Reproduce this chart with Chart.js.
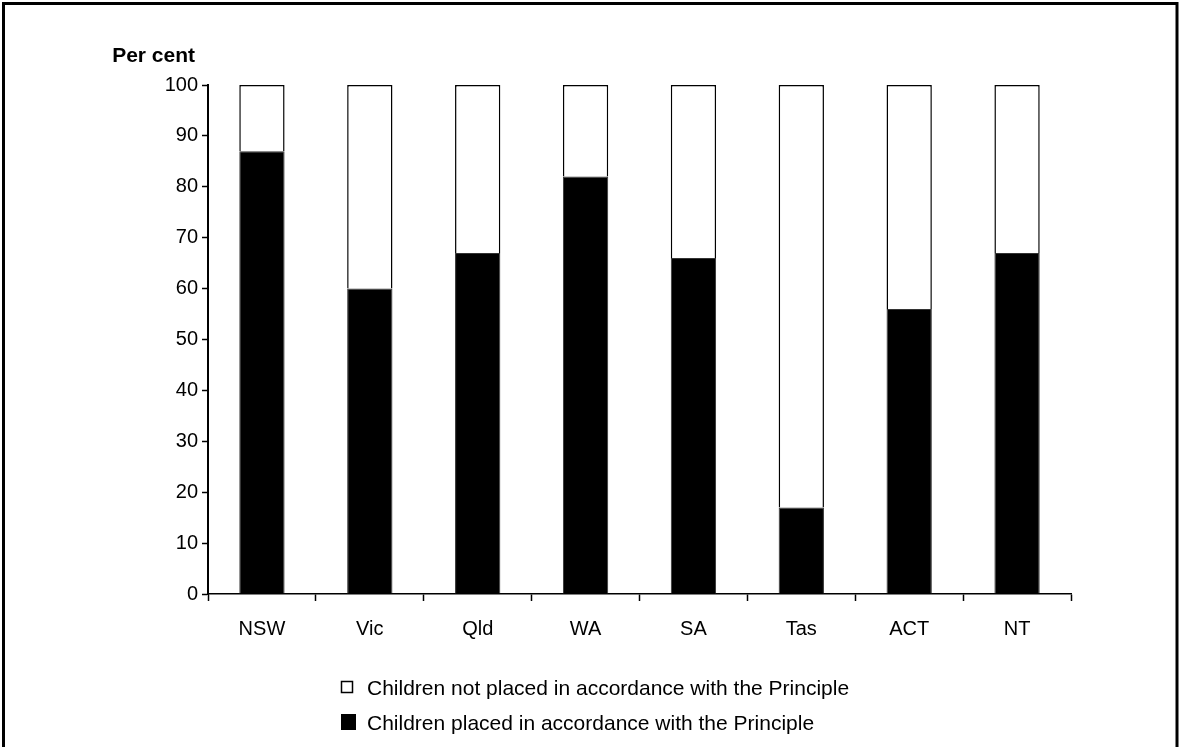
<!DOCTYPE html>
<html>
<head>
<meta charset="utf-8">
<title>Placement of Indigenous children by state</title>
<script src="https://cdn.jsdelivr.net/npm/chart.js@4.4.1/dist/chart.umd.min.js"></script>
<style>
  html, body { margin: 0; padding: 0; background: #fff; }
  #wrap { position: relative; width: 1179px; height: 747px; }
</style>
</head>
<body>
<div id="wrap"><canvas id="chart" width="1179" height="747"></canvas></div>
<script>
// States and territories
const categories = ['NSW', 'Vic', 'Qld', 'WA', 'SA', 'Tas', 'ACT', 'NT'];
// Per cent of children placed in accordance with the Principle
const placed = [87, 60, 67, 82, 66, 17, 56, 67];
// Per cent of children not placed in accordance with the Principle
const notPlaced = [13, 40, 33, 18, 34, 83, 44, 33];
// Y axis tick values
const yTicks = [0, 10, 20, 30, 40, 50, 60, 70, 80, 90, 100];

const FONT = "'Liberation Sans', Arial, Helvetica, sans-serif";

// Frame around the figure, the "Per cent" axis title and the stacked legend
const decorations = {
  id: 'decorations',
  afterDraw(chart) {
    const ctx = chart.ctx;
    ctx.save();
    ctx.strokeStyle = '#000';
    ctx.lineWidth = 3;
    ctx.strokeRect(3.5, 3.5, 1173.5, 800);

    ctx.fillStyle = '#000';
    ctx.font = 'bold 21px ' + FONT;
    ctx.textAlign = 'right';
    ctx.textBaseline = 'middle';
    ctx.fillText('Per cent', 195, 56);

    // legend, top entry is the upper stack segment
    const items = chart.data.datasets.slice().reverse();
    ctx.font = '21px ' + FONT;
    ctx.textAlign = 'left';
    items.forEach((ds, i) => {
      const cy = 688 + i * 35;
      if (ds.backgroundColor === '#000000') {
        ctx.fillStyle = '#000';
        ctx.fillRect(341, cy - 9, 15, 16);
      } else {
        ctx.fillStyle = '#fff';
        ctx.fillRect(341, cy - 7, 12, 12);
        ctx.lineWidth = 1.5;
        ctx.strokeStyle = '#000';
        ctx.strokeRect(341.5, cy - 6.5, 11, 11);
      }
      ctx.fillStyle = '#000';
      ctx.fillText(ds.label, 367, cy + 1);
    });
    ctx.restore();
  }
};

new Chart(document.getElementById('chart'), {
  type: 'bar',
  data: {
    labels: categories,
    datasets: [
      {
        label: 'Children placed in accordance with the Principle',
        data: placed,
        backgroundColor: '#000000',
        borderColor: '#333333',
        borderWidth: 1
      },
      {
        label: 'Children not placed in accordance with the Principle',
        data: notPlaced,
        backgroundColor: '#ffffff',
        borderColor: '#000000',
        borderWidth: 1.5
      }
    ]
  },
  options: {
    responsive: false,
    animation: false,
    layout: { padding: { left: 0, right: 108, top: 85, bottom: 0 } },
    datasets: { bar: { categoryPercentage: 1, barPercentage: 0.42 } },
    plugins: { legend: { display: false }, tooltip: { enabled: false } },
    scales: {
      x: {
        stacked: true,
        afterFit(s) { s.height = 153; },
        grid: { offset: true, drawOnChartArea: false, tickLength: 7, tickColor: '#000', tickWidth: 1.5 },
        border: { color: '#000', width: 1.5 },
        ticks: { color: '#000', font: { family: FONT, size: 20 }, padding: 16 }
      },
      y: {
        stacked: true,
        min: 0,
        max: 100,
        afterFit(s) { s.width = 208; },
        afterBuildTicks(s) { s.ticks = yTicks.map(v => ({ value: v })); },
        grid: { drawOnChartArea: false, tickLength: 6, tickColor: '#000', tickWidth: 1.5 },
        border: { color: '#000', width: 2 },
        ticks: { color: '#000', font: { family: FONT, size: 20 }, padding: 4 }
      }
    }
  },
  plugins: [decorations]
});
</script>
</body>
</html>
